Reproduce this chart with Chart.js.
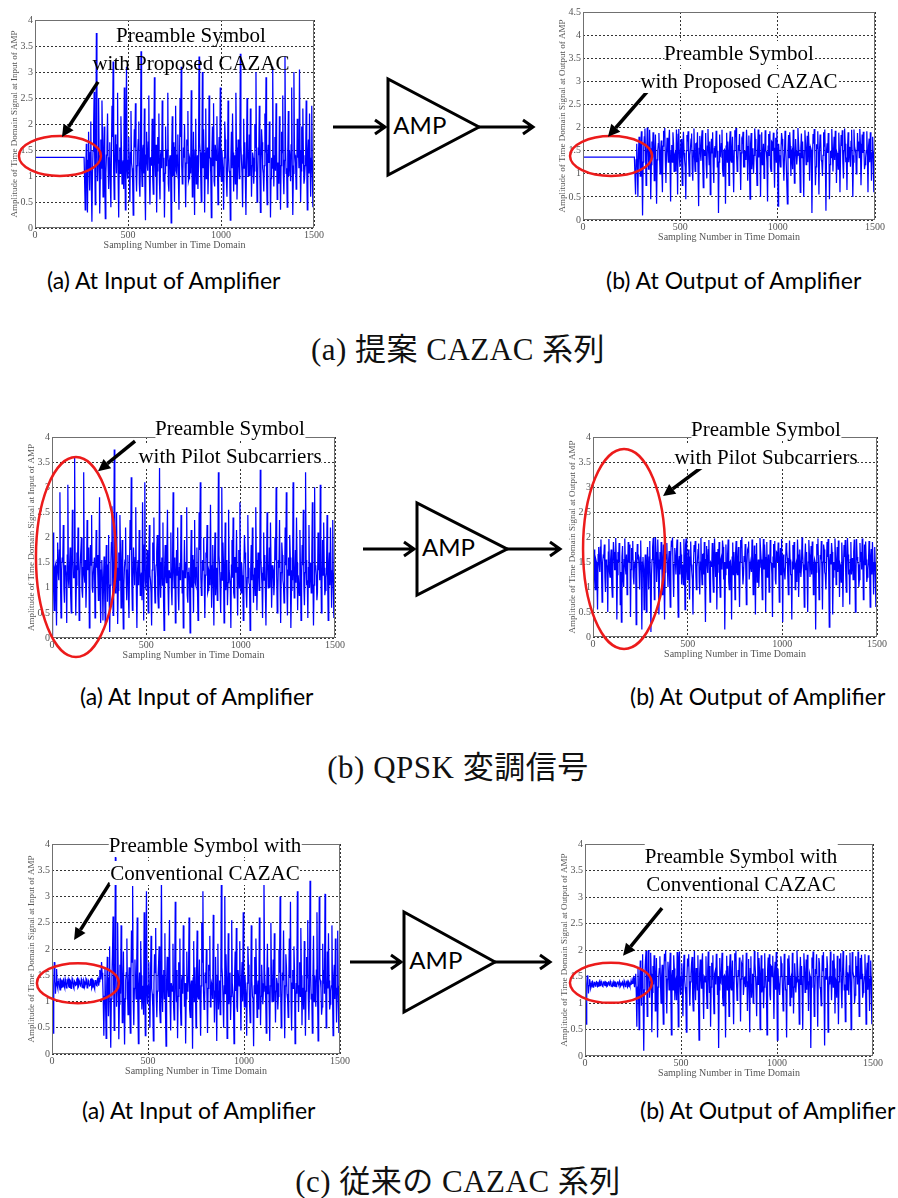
<!DOCTYPE html>
<html>
<head>
<meta charset="utf-8">
<script src="https://cdn.jsdelivr.net/npm/chart.js@4.4.1/dist/chart.umd.min.js"></script>
<style>
body { margin: 0; background: #fff; }
#page { position: relative; width: 898px; height: 1198px; overflow: hidden; background: #fff; }
.plot { position: absolute; }
.note { position: absolute; transform: translateX(-50%); font-family: "Liberation Serif", serif; font-size: 21px; line-height: 28px; text-align: center; white-space: nowrap; color: #000; z-index: 2; }
.note.boxed span { background: #fff; }
.cap { position: absolute; font-family: Lato, "Open Sans", sans-serif; font-size: 23px; line-height: 26px; white-space: nowrap; color: #000; }
.fig { position: absolute; left: 0; width: 916px; text-align: center; font-family: "Liberation Serif", "Noto Sans CJK JP", serif; font-size: 31px; line-height: 36px; letter-spacing: 0.5px; color: #111; }
#amp { position: absolute; left: 0; top: 0; }
</style>
</head>
<body>
<div id="page">
  <svg id="amp" width="898" height="1198"></svg>

  <div class="note" style="left:191px;top:21px"><span>Preamble Symbol</span><br><span>with Proposed CAZAC</span></div>
  <div class="note boxed" style="left:739px;top:39px"><span>Preamble Symbol</span><br><span>with Proposed CAZAC</span></div>
  <div class="note boxed" style="left:230px;top:414px"><span>Preamble Symbol</span><br><span>with Pilot Subcarriers</span></div>
  <div class="note boxed" style="left:766px;top:415px"><span>Preamble Symbol</span><br><span>with Pilot Subcarriers</span></div>
  <div class="note boxed" style="left:205px;top:831px"><span>Preamble Symbol with</span><br><span>Conventional CAZAC</span></div>
  <div class="note boxed" style="left:741px;top:842px"><span>Preamble Symbol with</span><br><span>Conventional CAZAC</span></div>

  <div class="cap" style="left:47px;top:267px">(a) At Input of Amplifier</div>
  <div class="cap" style="left:606px;top:267px">(b) At Output of Amplifier</div>
  <div class="fig" style="top:332px">(a) 提案 CAZAC 系列</div>

  <div class="cap" style="left:80px;top:683px">(a) At Input of Amplifier</div>
  <div class="cap" style="left:630px;top:683px">(b) At Output of Amplifier</div>
  <div class="fig" style="top:750px">(b) QPSK 変調信号</div>

  <div class="cap" style="left:82px;top:1097px">(a) At Input of Amplifier</div>
  <div class="cap" style="left:640px;top:1097px">(b) At Output of Amplifier</div>
  <div class="fig" style="top:1164px">(c) 従来の CAZAC 系列</div>
</div>

<script>
// samples kept every 3rd point of the 1500-sample symbol:
// the "even" arrays sit at start + 6i, the "mid" arrays at start + 6i + 3
const SAMPLE_STEP = 6;
const PAYLOAD_START = 270;

// proposed CAZAC preamble: constant envelope
const flatX = [0, 264];
const cazacIn = [1.36, 1.36];
const cazacOut = [1.36, 1.36];

// data part after the preamble (same OFDM data in every case)
const payloadIn = [
  0.35, 1.62, 0.30, 1.85, 0.72, 2.05, 0.12, 1.48, 2.62, 0.45,
  3.75, 0.90, 2.50, 0.28, 1.70, 2.45, 0.60, 1.95, 0.18, 1.40,
  2.20, 0.75, 1.65, 0.40, 2.35, 3.20, 0.55, 1.80, 1.05, 2.60,
  0.20, 1.55, 2.15, 0.85, 1.30, 2.70, 0.35, 3.10, 0.95, 1.75,
  0.50, 2.25, 1.15, 0.25, 1.90, 2.40, 0.70, 1.45, 2.05, 0.60,
  3.40, 0.80, 1.60, 2.30, 0.15, 1.85, 1.10, 2.55, 0.45, 1.35,
  2.10, 0.65, 2.90, 1.00, 0.30, 1.75, 2.20, 0.55, 1.50, 2.45,
  0.90, 0.20, 1.95, 1.25, 2.60, 0.70, 1.40, 0.10, 2.15, 1.65,
  0.50, 2.35, 1.05, 1.80, 0.35, 2.50, 3.10, 0.85, 1.55, 2.00,
  0.40, 1.70, 2.25, 0.95, 1.30, 2.65, 0.60, 1.85, 0.25, 2.10,
  1.20, 0.75, 3.30, 1.45, 0.50, 3.00, 1.90, 0.30, 2.30, 1.15,
  0.65, 2.55, 1.35, 0.20, 1.95, 2.40, 0.80, 1.60, 2.15, 0.45,
  1.75, 2.70, 0.90, 1.25, 0.35, 2.05, 1.50, 0.60, 2.45, 1.10,
  0.15, 1.85, 2.20, 0.70, 1.40, 2.60, 0.55, 1.70, 0.95, 3.35,
  1.30, 0.40, 2.10, 1.65, 0.25, 2.50, 1.00, 1.80, 2.30, 0.60,
  1.45, 0.85, 2.00, 3.00, 0.50, 1.55, 2.35, 0.30, 1.90, 1.15,
  0.70, 2.20, 2.90, 0.45, 1.60, 2.05, 0.20, 1.35, 3.10, 0.80,
  1.75, 2.40, 0.55, 1.25, 2.15, 0.35, 1.85, 2.55, 0.65, 3.30,
  1.05, 0.40, 2.25, 1.50, 0.90, 2.70, 0.25, 3.00, 1.40, 0.75,
  2.10, 1.60, 3.05, 0.50, 1.95, 2.30, 0.85, 1.20, 2.45, 0.35,
  1.70, 2.20, 0.60, 2.35, 0.40
];
const payloadInMid = [
  1.10, 0.95, 1.30, 1.20, 1.45, 0.80, 1.05, 1.90, 1.35, 1.15,
  1.60, 1.25, 1.40, 0.95, 1.15, 1.70, 1.30, 0.90, 1.05, 1.55,
  1.20, 1.35, 0.85, 1.45, 1.75, 1.10, 1.25, 1.40, 1.60, 0.95,
  1.30, 1.05, 1.50, 1.20, 0.75, 1.40, 1.85, 1.15, 1.30, 1.00,
  1.45, 1.25, 0.90, 1.35, 1.55, 1.10, 1.20, 1.70, 0.85, 1.30,
  1.15, 1.50, 1.05, 0.80, 1.40, 1.25, 1.65, 1.00, 1.35, 1.20,
  0.95, 1.45, 1.30, 1.60, 1.10, 1.25, 0.90, 1.40, 1.15, 1.80,
  1.35, 1.05, 1.20, 1.50, 0.85, 1.30, 1.15, 1.45, 1.00, 1.25,
  1.55, 1.10, 1.40, 0.95, 1.30, 1.75, 1.20, 1.05, 1.35, 1.15,
  1.25, 1.60, 0.90, 1.35, 1.05, 1.45, 1.20, 1.10, 1.50, 0.85,
  1.40, 1.20, 1.65, 1.00, 1.30, 1.15, 1.45, 1.25, 0.95, 1.55,
  1.10, 1.35, 1.05, 1.45, 1.20, 0.90, 1.60, 1.30, 1.15, 1.40,
  1.00, 1.25, 1.50, 1.10, 1.35, 1.70, 0.95, 1.20, 1.40, 1.05,
  1.30, 1.15, 1.45, 1.25, 0.85, 1.55, 1.10, 1.35, 1.20, 1.60,
  1.05, 1.40, 1.15, 0.95, 1.30, 1.50, 1.25, 1.00, 1.45, 1.20,
  1.35, 1.10, 1.55, 1.25, 0.90, 1.40, 1.15, 1.30, 1.65, 1.05,
  1.20, 1.45, 1.00, 1.35, 1.25, 1.60, 0.95, 1.15, 1.40, 1.30,
  1.10, 1.50, 1.25, 0.85, 1.35, 1.20, 1.45, 1.05, 1.30, 1.55,
  1.15, 1.40, 1.00, 1.30, 1.60, 1.20, 1.05, 1.45, 1.25, 0.90,
  1.35, 1.15, 1.50, 1.10, 1.25, 1.40, 0.95, 1.30, 1.20, 1.45,
  1.05, 1.35, 1.25, 1.15, 1.30
];
const payloadOut = [
  0.55, 1.65, 0.50, 1.80, 0.95, 1.92, 0.10, 1.55, 1.98, 0.75,
  2.00, 1.10, 1.95, 0.45, 1.70, 1.90, 0.85, 1.85, 0.35, 1.50,
  1.88, 1.00, 1.72, 0.60, 1.93, 1.99, 0.80, 1.78, 1.25, 1.95,
  0.40, 1.62, 1.90, 1.05, 1.45, 1.96, 0.55, 1.97, 1.15, 1.75,
  0.75, 1.91, 1.30, 0.45, 1.84, 1.92, 0.95, 1.55, 1.87, 0.85,
  1.98, 1.05, 1.66, 1.90, 0.30, 1.82, 1.28, 1.94, 0.70, 1.48,
  1.88, 0.90, 1.97, 1.20, 0.55, 1.76, 1.90, 0.80, 1.60, 1.93,
  1.15, 0.15, 1.85, 1.38, 1.95, 0.95, 1.52, 0.35, 1.89, 1.70,
  0.75, 1.92, 1.25, 1.80, 0.60, 1.94, 1.99, 1.05, 1.62, 1.86,
  0.65, 1.74, 1.91, 1.15, 1.42, 1.95, 0.85, 1.83, 0.45, 1.88,
  1.35, 1.00, 1.98, 1.55, 0.75, 1.96, 1.85, 0.50, 1.90, 1.30,
  0.90, 1.94, 1.48, 0.40, 1.86, 1.92, 1.05, 1.68, 1.89, 0.70,
  1.78, 1.96, 0.30, 1.40, 1.15, 1.88, 1.58, 0.85, 1.93, 1.25,
  0.35, 1.84, 1.90, 0.95, 1.50, 1.95, 0.80, 1.75, 1.20, 1.99,
  1.45, 0.60, 1.87, 1.70, 0.50, 1.94, 1.20, 1.82, 1.91, 0.85,
  1.55, 0.15, 1.86, 1.97, 0.75, 1.64, 1.92, 0.55, 1.85, 1.30,
  0.95, 1.90, 1.96, 0.20, 1.66, 1.88, 0.45, 1.50, 1.97, 1.05,
  1.80, 1.93, 0.80, 1.40, 1.89, 0.60, 1.84, 1.94, 0.90, 1.98,
  1.25, 0.65, 1.90, 1.58, 1.15, 1.95, 0.50, 1.96, 1.52, 1.00,
  1.88, 1.70, 1.97, 0.75, 1.85, 1.91, 1.10, 1.35, 1.92, 0.60,
  1.76, 1.90, 0.85, 1.80, 0.60
];
const payloadOutMid = [
  1.30, 1.15, 1.45, 1.35, 1.60, 1.05, 1.25, 1.80, 1.50, 1.35,
  1.70, 1.40, 1.55, 1.20, 1.35, 1.75, 1.45, 1.15, 1.30, 1.65,
  1.40, 1.50, 1.10, 1.60, 1.80, 1.30, 1.45, 1.55, 1.70, 1.20,
  1.50, 1.25, 1.65, 1.40, 1.05, 1.55, 1.85, 1.35, 1.50, 1.25,
  1.60, 1.45, 1.15, 1.50, 1.70, 1.30, 1.40, 1.75, 1.10, 1.50,
  1.35, 1.65, 1.25, 1.05, 1.55, 1.45, 1.75, 1.20, 1.50, 1.40,
  1.20, 1.60, 1.50, 1.70, 1.30, 1.45, 1.15, 1.55, 1.35, 1.80,
  1.50, 1.25, 1.40, 1.65, 1.10, 1.50, 1.35, 1.60, 1.25, 1.45,
  1.65, 1.30, 1.55, 1.20, 1.50, 1.80, 1.40, 1.25, 1.50, 1.35,
  1.45, 1.70, 1.15, 1.50, 1.30, 1.60, 1.40, 1.30, 1.65, 1.10,
  1.55, 1.40, 1.75, 1.25, 1.50, 1.35, 1.60, 1.45, 1.20, 1.65,
  1.30, 1.50, 1.25, 1.60, 1.40, 1.15, 1.70, 1.50, 1.35, 1.55,
  1.25, 1.45, 1.65, 1.30, 1.50, 1.75, 1.20, 1.40, 1.55, 1.25,
  1.50, 1.35, 1.60, 1.45, 1.10, 1.65, 1.30, 1.50, 1.40, 1.70,
  1.25, 1.55, 1.35, 1.20, 1.50, 1.65, 1.45, 1.25, 1.60, 1.40,
  1.50, 1.30, 1.65, 1.45, 1.15, 1.55, 1.35, 1.50, 1.75, 1.25,
  1.40, 1.60, 1.25, 1.50, 1.45, 1.70, 1.20, 1.35, 1.55, 1.50,
  1.30, 1.65, 1.45, 1.10, 1.50, 1.40, 1.60, 1.25, 1.50, 1.65,
  1.35, 1.55, 1.25, 1.50, 1.70, 1.40, 1.25, 1.60, 1.45, 1.15,
  1.50, 1.35, 1.65, 1.30, 1.45, 1.55, 1.20, 1.50, 1.40, 1.60,
  1.25, 1.50, 1.45, 1.35, 1.50
];

// QPSK pilot-subcarrier preamble
const pilotIn = [
  0.05, 2.10, 0.55, 1.45, 0.25, 1.90, 1.15, 2.90, 0.40, 1.60,
  2.25, 0.70, 1.35, 0.30, 3.05, 1.00, 1.80, 0.50, 2.55, 1.20,
  3.60, 0.45, 1.70, 2.20, 0.35, 1.50, 2.00, 0.80, 3.30, 1.10,
  0.60, 2.35, 1.45, 0.20, 1.85, 2.45, 0.90, 1.30, 0.40, 2.15,
  1.65, 0.75, 2.80, 0.30, 1.55
];
const pilotInMid = [
  1.20, 1.05, 1.40, 0.90, 1.55, 1.30, 1.75, 1.10, 1.35, 1.50,
  1.00, 1.45, 1.25, 1.65, 1.15, 1.40, 0.85, 1.30, 1.60, 1.20,
  1.45, 1.05, 1.35, 1.70, 1.15, 1.50, 0.95, 1.40, 1.25, 1.55,
  1.10, 1.35, 1.80, 1.20, 1.45, 1.00, 1.30, 1.60, 1.15, 1.40,
  1.25, 1.50, 1.05, 1.35, 1.20
];
const pilotOut = [
  0.60, 1.75, 0.95, 1.50, 0.55, 1.80, 1.30, 1.95, 0.70, 1.62,
  1.85, 0.90, 1.45, 0.50, 1.96, 1.20, 1.75, 0.80, 1.90, 1.35,
  1.98, 0.35, 1.70, 1.88, 0.65, 0.30, 1.82, 1.00, 1.97, 1.25,
  0.85, 1.90, 1.50, 0.40, 1.78, 1.92, 1.05, 1.40, 0.25, 1.86,
  1.65, 0.95, 1.93, 0.15, 1.60
];
const pilotOutMid = [
  1.35, 1.20, 1.55, 1.10, 1.65, 1.45, 1.80, 1.30, 1.50, 1.60,
  1.20, 1.55, 1.40, 1.70, 1.30, 1.55, 1.05, 1.45, 1.70, 1.35,
  1.55, 1.25, 1.50, 1.75, 1.30, 1.60, 1.15, 1.55, 1.40, 1.65,
  1.30, 1.50, 1.85, 1.35, 1.55, 1.20, 1.45, 1.70, 1.30, 1.55,
  1.40, 1.60, 1.25, 1.50, 1.35
];

// conventional CAZAC preamble
const convIn = [
  1.05, 0.40, 1.75, 1.15, 1.62, 1.25, 1.44, 1.22, 1.40, 1.28,
  1.42, 1.26, 1.38, 1.30, 1.43, 1.27, 1.39, 1.31, 1.41, 1.25,
  1.37, 1.32, 1.44, 1.28, 1.36, 1.30, 1.40, 1.26, 1.38, 1.33,
  1.42, 1.27, 1.37, 1.31, 1.43, 1.28, 1.39, 1.24, 1.41, 1.30,
  1.45, 1.38, 1.50, 1.75, 1.40
];
const convInMid = [
  0.70, 1.30, 1.50, 1.35, 1.30, 1.38, 1.29, 1.42, 1.27, 1.40,
  1.30, 1.43, 1.26, 1.40, 1.29, 1.41, 1.25, 1.44, 1.28, 1.39,
  1.31, 1.42, 1.26, 1.40, 1.32, 1.43, 1.27, 1.41, 1.29, 1.44,
  1.26, 1.40, 1.30, 1.42, 1.25, 1.41, 1.28, 1.40, 1.31, 1.43,
  1.30, 1.60, 1.42, 1.55, 1.00
];
const convOut = [
  1.00, 0.60, 1.52, 1.18, 1.45, 1.28, 1.40, 1.30, 1.39, 1.32,
  1.40, 1.31, 1.38, 1.33, 1.41, 1.32, 1.39, 1.34, 1.40, 1.31,
  1.38, 1.34, 1.41, 1.32, 1.37, 1.33, 1.40, 1.31, 1.39, 1.35,
  1.41, 1.32, 1.38, 1.34, 1.42, 1.31, 1.39, 1.30, 1.40, 1.33,
  1.42, 1.37, 1.48, 1.30, 1.55
];
const convOutMid = [
  0.75, 1.35, 1.42, 1.33, 1.38, 1.32, 1.41, 1.31, 1.40, 1.33,
  1.39, 1.32, 1.41, 1.33, 1.38, 1.31, 1.40, 1.33, 1.39, 1.32,
  1.41, 1.33, 1.38, 1.31, 1.40, 1.32, 1.39, 1.33, 1.41, 1.32,
  1.38, 1.34, 1.40, 1.31, 1.39, 1.33, 1.41, 1.32, 1.38, 1.35,
  1.36, 1.45, 1.40, 1.50, 1.20
];

const xTicks = [0, 500, 1000, 1500];
const inTitle = "Amplitude of Time Domain Signal at Input of AMP";
const outTitle = "Amplitude of Time Domain Signal at Output of AMP";

// merge an even/mid pair of arrays into one sample list
function samples(even, mid, start) {
  const pts = [];
  even.forEach(function (v, i) {
    pts.push({ x: start + i * SAMPLE_STEP, y: v });
    if (i < mid.length) pts.push({ x: start + i * SAMPLE_STEP + SAMPLE_STEP / 2, y: mid[i] });
  });
  return pts;
}
function pairs(xs, ys) {
  return xs.map((x, i) => ({ x: x, y: ys[i] }));
}

const dataIn = samples(payloadIn, payloadInMid, PAYLOAD_START);
const dataOut = samples(payloadOut, payloadOutMid, PAYLOAD_START);

// plot box = [left, top, width, height] of the axes area on the page
const panels = [
  { box: [35, 20, 279, 208], yMax: 4, yTitle: inTitle,
    points: pairs(flatX, cazacIn).concat(dataIn),
    ring: { x: 134, y: 1.385, rx: 41, ry: 20 }, arrow: [339, 2.81, 145, 1.75] },
  { box: [583, 12, 292, 208], yMax: 4.5, yTitle: outTitle,
    points: pairs(flatX, cazacOut).concat(dataOut),
    ring: { x: 144, y: 1.385, rx: 41, ry: 20 }, arrow: [329, 2.77, 128, 1.80] },
  { box: [52, 437, 283, 201], yMax: 4, yTitle: inTitle,
    points: samples(pilotIn, pilotInMid, 0).concat(dataIn),
    ring: { x: 127, y: 1.61, rx: 40, ry: 100 }, arrow: [440, 3.92, 244, 3.32] },
  { box: [593, 437, 284, 200], yMax: 4, yTitle: outTitle,
    points: samples(pilotOut, pilotOutMid, 0).concat(dataOut),
    ring: { x: 164, y: 1.76, rx: 41, ry: 100 }, arrow: [576, 3.40, 370, 2.82] },
  { box: [52, 844, 288, 210], yMax: 4, yTitle: inTitle,
    points: samples(convIn, convInMid, 0).concat(dataIn),
    ring: { x: 135, y: 1.35, rx: 41, ry: 20 }, arrow: [302, 3.26, 115, 2.17] },
  { box: [585, 844, 288, 212], yMax: 4, yTitle: outTitle,
    points: samples(convOut, convOutMid, 0).concat(dataOut),
    ring: { x: 135, y: 1.38, rx: 41, ry: 20 }, arrow: [401, 2.79, 198, 1.89] }
];

const Y_AXIS_W = 28, X_AXIS_H = 26, PAD_TOP = 10, PAD_RIGHT = 14;

// box frame, red ring and black pointer drawn over the trace
const matlabBox = {
  id: 'matlabBox',
  afterLayout(chart, args, opts) {
    const wrap = chart.canvas.parentNode;
    wrap.style.left = (opts.box[0] - chart.chartArea.left) + 'px';
    wrap.style.top = (opts.box[1] - chart.chartArea.top) + 'px';
  },
  afterDraw(chart, args, opts) {
    const ctx = chart.ctx, a = chart.chartArea;
    const sx = chart.scales.x, sy = chart.scales.y;
    ctx.save();
    ctx.strokeStyle = '#707070';
    ctx.lineWidth = 1;
    ctx.strokeRect(Math.round(a.left) + 0.5, Math.round(a.top) + 0.5,
      Math.round(a.right - a.left) - 1, Math.round(a.bottom - a.top) - 1);

    ctx.strokeStyle = '#ec1b1b';
    ctx.lineWidth = 2.5;
    ctx.beginPath();
    ctx.ellipse(sx.getPixelForValue(opts.ring.x), sy.getPixelForValue(opts.ring.y),
      opts.ring.rx, opts.ring.ry, 0, 0, Math.PI * 2);
    ctx.stroke();

    const x1 = sx.getPixelForValue(opts.arrow[0]), y1 = sy.getPixelForValue(opts.arrow[1]);
    const x2 = sx.getPixelForValue(opts.arrow[2]), y2 = sy.getPixelForValue(opts.arrow[3]);
    const ang = Math.atan2(y2 - y1, x2 - x1);
    const head = 12, wing = 6;
    const bx = x2 - head * Math.cos(ang), by = y2 - head * Math.sin(ang);
    ctx.strokeStyle = '#000';
    ctx.fillStyle = '#000';
    ctx.lineWidth = 3.5;
    ctx.beginPath();
    ctx.moveTo(x1, y1);
    ctx.lineTo(bx, by);
    ctx.stroke();
    ctx.beginPath();
    ctx.moveTo(x2, y2);
    ctx.lineTo(bx + wing * Math.sin(ang), by - wing * Math.cos(ang));
    ctx.lineTo(bx - wing * Math.sin(ang), by + wing * Math.cos(ang));
    ctx.closePath();
    ctx.fill();
    ctx.restore();
  }
};

const serif = '"Liberation Serif", "Times New Roman", serif';
const page = document.getElementById('page');

panels.forEach(function (p) {
  const wrap = document.createElement('div');
  wrap.className = 'plot';
  const canvas = document.createElement('canvas');
  canvas.width = p.box[2] + Y_AXIS_W + PAD_RIGHT;
  canvas.height = p.box[3] + PAD_TOP + X_AXIS_H;
  wrap.appendChild(canvas);
  page.appendChild(wrap);

  new Chart(canvas, {
    type: 'line',
    data: {
      datasets: [{
        data: p.points,
        borderColor: '#0000ff',
        borderWidth: 1.25,
        pointRadius: 0,
        tension: 0,
        fill: false
      }]
    },
    options: {
      responsive: false,
      animation: false,
      devicePixelRatio: 1,
      layout: { padding: { left: 0, top: PAD_TOP, right: PAD_RIGHT, bottom: 0 } },
      plugins: {
        legend: { display: false },
        tooltip: { enabled: false },
        matlabBox: { box: p.box, ring: p.ring, arrow: p.arrow }
      },
      scales: {
        x: {
          type: 'linear',
          min: 0,
          max: 1500,
          afterFit: function (s) { s.height = X_AXIS_H; },
          afterBuildTicks: function (s) { s.ticks = xTicks.map(v => ({ value: v })); },
          ticks: {
            padding: 1,
            maxRotation: 0,
            color: '#555',
            font: { family: serif, size: 10 },
            callback: v => String(v)
          },
          grid: { color: '#333', lineWidth: 1, drawTicks: false },
          border: { display: false, dash: [2, 2] },
          title: {
            display: true,
            text: 'Sampling Number in Time Domain',
            color: '#555',
            font: { family: serif, size: 10 },
            padding: { top: 0, bottom: 3 }
          }
        },
        y: {
          min: 0,
          max: p.yMax,
          afterFit: function (s) { s.width = Y_AXIS_W; },
          ticks: {
            stepSize: 0.5,
            padding: 2,
            color: '#555',
            font: { family: serif, size: 10 },
            callback: v => String(Math.round(v * 10) / 10)
          },
          grid: { color: '#333', lineWidth: 1, drawTicks: false },
          border: { display: false, dash: [2, 2] },
          title: {
            display: true,
            text: p.yTitle,
            color: '#555',
            font: { family: serif, size: 9 },
            padding: { top: 2, bottom: 0 }
          }
        }
      }
    },
    plugins: [matlabBox]
  });
});

// amplifier blocks between the input and output plots
const ampBlocks = [
  { x0: 333, left: 388, apex: 479, x1: 533, cy: 127, half: 48 },
  { x0: 363, left: 417, apex: 507, x1: 560, cy: 549, half: 46 },
  { x0: 350, left: 404, apex: 495, x1: 550, cy: 962, half: 50 }
];
const svg = document.getElementById('amp');
const NS = 'http://www.w3.org/2000/svg';
function svgEl(tag, attrs) {
  const el = document.createElementNS(NS, tag);
  for (const k in attrs) el.setAttribute(k, attrs[k]);
  svg.appendChild(el);
  return el;
}
ampBlocks.forEach(function (b) {
  const stroke = { fill: 'none', stroke: '#000', 'stroke-width': 3 };
  const tipIn = b.left - 3;
  svgEl('path', Object.assign({ d: 'M' + b.x0 + ' ' + b.cy + ' L' + tipIn + ' ' + b.cy +
    ' M' + (tipIn - 10) + ' ' + (b.cy - 7) + ' L' + tipIn + ' ' + b.cy + ' L' + (tipIn - 10) + ' ' + (b.cy + 7) }, stroke));
  svgEl('path', Object.assign({ d: 'M' + b.left + ' ' + (b.cy - b.half) + ' L' + b.left + ' ' + (b.cy + b.half) +
    ' L' + b.apex + ' ' + b.cy + ' Z', 'stroke-linejoin': 'miter' }, stroke));
  svgEl('path', Object.assign({ d: 'M' + b.apex + ' ' + b.cy + ' L' + b.x1 + ' ' + b.cy +
    ' M' + (b.x1 - 10) + ' ' + (b.cy - 7) + ' L' + b.x1 + ' ' + b.cy + ' L' + (b.x1 - 10) + ' ' + (b.cy + 7) }, stroke));
  const t = svgEl('text', {
    x: b.left + 0.35 * (b.apex - b.left), y: b.cy + 1,
    'text-anchor': 'middle', 'dominant-baseline': 'middle',
    'font-family': 'Lato, "Open Sans", sans-serif', 'font-size': 24, fill: '#000'
  });
  t.textContent = 'AMP';
});
</script>
</body>
</html>
